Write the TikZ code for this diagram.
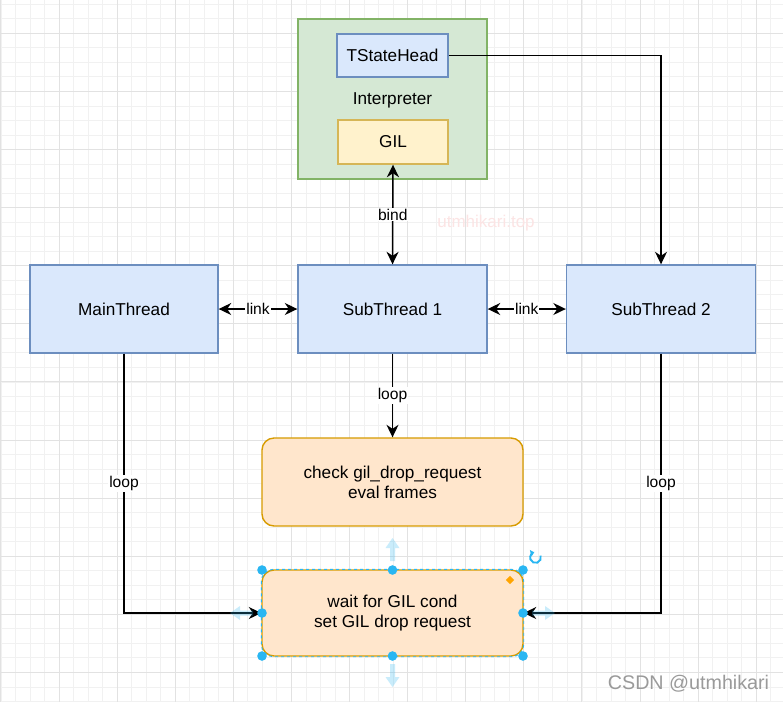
\documentclass[tikz,border=0pt]{standalone}
\usepackage{fontspec}
\setmainfont{Liberation Sans}
\usetikzlibrary{arrows.meta}
\definecolor{gridminor}{HTML}{F1F1F1}
\definecolor{gridmajor}{HTML}{E2E2E2}
\definecolor{bluefill}{HTML}{DAE8FC}
\definecolor{bluestroke}{HTML}{6C8EBF}
\definecolor{greenfill}{HTML}{D5E8D4}
\definecolor{greenstroke}{HTML}{82B366}
\definecolor{yellowfill}{HTML}{FFF2CC}
\definecolor{yellowstroke}{HTML}{D6B656}
\definecolor{orangefill}{HTML}{FFE6CC}
\definecolor{orangestroke}{HTML}{D79B00}
\definecolor{handle}{HTML}{29B6F2}
\definecolor{wmred}{HTML}{FCE4E4}
\definecolor{csdngray}{HTML}{9A9A9A}
\definecolor{diam}{HTML}{FFA500}
\newcommand\hdlarrow[3]{%
  \fill[handle, opacity=0.25, shift={(#1,#2)}, rotate=#3]
    (0,-2.5) -- (13,-2.5) -- (13,-7) -- (23,0) -- (13,7) -- (13,2.5) -- (0,2.5) -- cycle;}
\begin{document}
\begin{tikzpicture}[x=1pt,y=-1pt,
  txt/.style={font=\fontsize{17.2}{20}\selectfont, text=black, align=center},
  lbl/.style={fill=white, inner sep=1pt, font=\fontsize{15.6}{18}\selectfont, text=black},
  bluebox/.style={txt, draw=bluestroke, fill=bluefill, line width=1.4pt, inner sep=0pt},
  yellowbox/.style={txt, draw=yellowstroke, fill=yellowfill, line width=1.4pt, inner sep=0pt},
  greenbox/.style={draw=greenstroke, fill=greenfill, line width=1.4pt, inner sep=0pt},
  orangebox/.style={txt, draw=orangestroke, fill=orangefill, line width=1.4pt, inner sep=0pt, rounded corners=12pt},
  conn/.style={draw=black, line width=1.5pt, >={Stealth[length=12.5pt,width=12pt,inset=4pt]}},
  dot/.style={fill=handle}
]
\useasboundingbox (0,0) rectangle (783,702);
\fill[white] (0,0) rectangle (783,702);
% grid
\foreach \i in {0,...,54} {
  \pgfmathsetmacro\xx{0.9+14.525*\i}
  \draw[gridminor, line width=0.8pt] (\xx,0) -- (\xx,702);
}
\foreach \j in {1,...,50} {
  \pgfmathsetmacro\yy{-24.8+14.525*\j}
  \draw[gridminor, line width=0.8pt] (0,\yy) -- (783,\yy);
}
\foreach \i in {0,...,13} {
  \pgfmathsetmacro\xx{0.9+58.1*\i}
  \draw[gridmajor, line width=0.9pt] (\xx,0) -- (\xx,702);
}
\foreach \j in {1,...,13} {
  \pgfmathsetmacro\yy{-24.8+58.1*\j}
  \draw[gridmajor, line width=0.9pt] (0,\yy) -- (783,\yy);
}
% interpreter group
\node[greenbox, minimum width=189, minimum height=160] (interp) at (392.5,99) {};
\node[txt] (interplbl) at (392.5,100) {Interpreter};
\node[bluebox, minimum width=111, minimum height=43] (ts) at (392.5,55.5) {TStateHead};
\node[yellowbox, minimum width=110, minimum height=44] (gil) at (393,142) {GIL};
% threads
\node[bluebox, minimum width=188, minimum height=88] (main) at (124,309) {MainThread};
\node[bluebox, minimum width=189, minimum height=88] (sub1) at (392.5,309) {SubThread 1};
\node[bluebox, minimum width=189, minimum height=88] (sub2) at (661,309) {SubThread 2};
% loop boxes
\node[orangebox, minimum width=261, minimum height=88] (check) at (392.5,482) {check gil\_drop\_request\\eval frames};
\node[orangebox, minimum width=261, minimum height=86] (wait) at (392.5,613) {wait for GIL cond\\set GIL drop request};
% watermark
\node[font=\fontsize{17}{20}\selectfont, text=wmred] (wm) at (486,223) {utmhikari.top};
% connectors
\draw[conn, <->] (gil.south) -- node[lbl] {bind} (sub1.north);
\draw[conn, <->] (main.east) -- node[lbl] {link} (sub1.west);
\draw[conn, <->] (sub1.east) -- node[lbl] {link} (sub2.west);
\draw[conn, ->] (ts.east) -| (sub2.north);
\draw[conn, ->] (sub1.south) -- node[lbl] {loop} (check.north);
\draw[conn, ->] (main.south) |- node[lbl, pos=0.25] {loop} (wait.west);
\draw[conn, ->] (sub2.south) |- node[lbl, pos=0.25] {loop} (wait.east);
% selection overlay on the wait box
\draw[handle, line width=0.9pt, dash pattern=on 3pt off 3pt, rounded corners=12pt]
  (wait.north west) rectangle (wait.south east);
\hdlarrow{392.5}{561}{90}
\hdlarrow{392.5}{664}{-90}
\hdlarrow{253}{613}{180}
\hdlarrow{532}{613}{0}
\foreach \px in {262,392.5,523} {
  \fill[dot] (\px,570) circle[radius=4.8];
  \fill[dot] (\px,656) circle[radius=4.8];
}
\fill[dot] (262,613) circle[radius=4.8];
\fill[dot] (523,613) circle[radius=4.8];
\fill[diam] (510,575.8) -- (514.2,580) -- (510,584.2) -- (505.8,580) -- cycle;
\draw[handle, line width=1.9pt, -{Triangle[length=3.5pt,width=6.5pt]}]
  ([shift={(-20:5.4)}]535.5,557.5) arc[start angle=-20, end angle=255, radius=5.4];
% csdn watermark
\node[font=\fontsize{19.7}{22}\selectfont, text=csdngray] (csdn) at (688.5,684) {CSDN @utmhikari};
\end{tikzpicture}
\end{document}
